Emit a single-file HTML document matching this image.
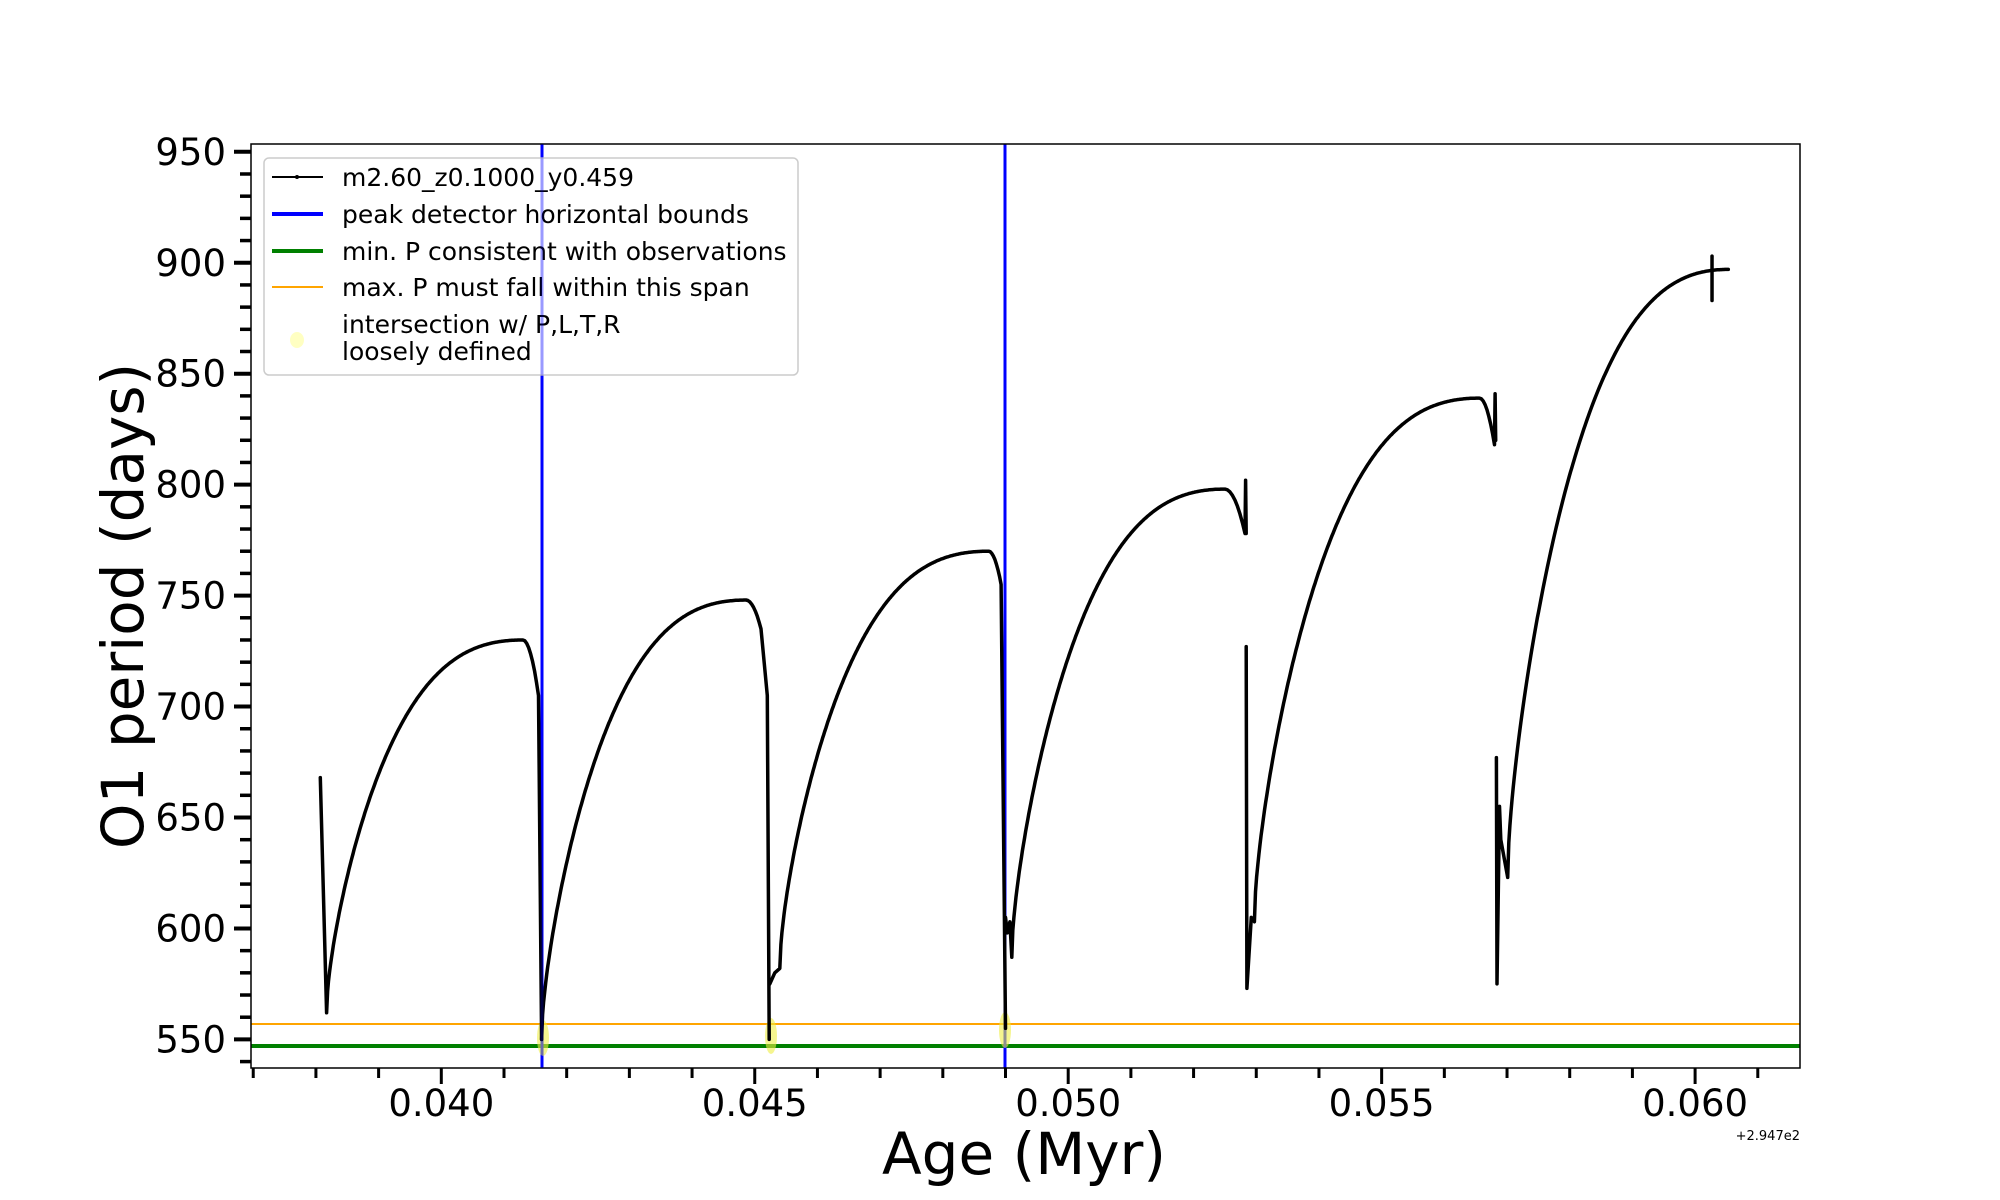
<!DOCTYPE html>
<html><head><meta charset="utf-8"><style>
html,body{margin:0;padding:0;background:#fff}
svg{display:block;font-family:"DejaVu Sans","Liberation Sans",sans-serif}
</style></head><body>
<svg id="s" width="2000" height="1200" viewBox="0 0 2000 1200" xmlns="http://www.w3.org/2000/svg">
<rect width="2000" height="1200" fill="#fff"/>
<g id="lines"></g>
<g id="curve" fill="none" stroke="#000" stroke-width="3.5" stroke-linejoin="round" stroke-linecap="round"></g>
<g id="ticks"></g>
<rect x="251" y="144" width="1549" height="924" fill="none" stroke="#000" stroke-width="1.5"/>
<rect x="264" y="158" width="534" height="217" rx="5" fill="#fff" fill-opacity="0.8" stroke="#ccc" stroke-width="1.5"/>
<g font-size="25" fill="#000">
<line x1="272" y1="177" x2="323" y2="177" stroke="#000" stroke-width="2"/><circle cx="297" cy="177" r="2"/>
<text x="342" y="186">m2.60_z0.1000_y0.459</text>
<line x1="272" y1="214" x2="323" y2="214" stroke="#0000ff" stroke-width="4"/>
<text x="342" y="223">peak detector horizontal bounds</text>
<line x1="272" y1="251" x2="323" y2="251" stroke="#008000" stroke-width="4"/>
<text x="342" y="260">min. P consistent with observations</text>
<line x1="272" y1="287" x2="323" y2="287" stroke="#ffa500" stroke-width="2"/>
<text x="342" y="296">max. P must fall within this span</text>
<ellipse cx="297" cy="340" rx="7" ry="8" fill="#ffff99" fill-opacity="0.6"/>
<text x="342" y="333">intersection w/ P,L,T,R</text>
<text x="342" y="360">loosely defined</text>
</g>
<line x1="542" y1="144" x2="542" y2="1068" stroke="#0000ff" stroke-width="3" stroke-opacity="0.25"/>
<g id="labels" fill="#000"></g>
<text x="1024" y="1174" font-size="58" text-anchor="middle">Age (Myr)</text>
<text transform="translate(143,606) rotate(-90)" font-size="58" text-anchor="middle">O1 period (days)</text>
<text x="1800" y="1140" font-size="13" text-anchor="end">+2.947e2</text>
</svg>
<script>
var NS="http://www.w3.org/2000/svg";
function X(a){return 441.3+(a-0.04)*62690;}
function Y(p){return 151.8+(950-p)*2.219;}
function el(t,at,par){var e=document.createElementNS(NS,t);for(var k in at)e.setAttribute(k,at[k]);document.getElementById(par).appendChild(e);return e;}
el("line",{x1:251,x2:1800,y1:1024,y2:1024,stroke:"#ffa500","stroke-width":2},"lines");
el("line",{x1:251,x2:1800,y1:1046,y2:1046,stroke:"#008000","stroke-width":4},"lines");
el("line",{x1:542,x2:542,y1:144,y2:1068,stroke:"#0000ff","stroke-width":3},"lines");
el("line",{x1:1005,x2:1005,y1:144,y2:1068,stroke:"#0000ff","stroke-width":3},"lines");
[[543,1038],[771,1036],[1005,1030]].forEach(function(c){el("ellipse",{cx:c[0],cy:c[1],rx:6,ry:18,fill:"#eeee44","fill-opacity":0.6},"lines");});
function rise(a0,p0,a1,p1,n){var r=[];for(var i=0;i<=n;i++){var t=i/n;var f=0.5*Math.sqrt(1-Math.pow(1-t,2))+0.5*(1-Math.pow(1-t,3));r.push([a0+(a1-a0)*t,p0+(p1-p0)*f]);}return r;}
function cap(a0,p0,a1,p1,n){var r=[];for(var i=1;i<=n;i++){var t=i/n;r.push([a0+(a1-a0)*t,p0+(p1-p0)*t*t]);}return r;}
var segs=[];
segs.push([[0.03807,668],[0.03817,562]].concat(rise(0.03817,562,0.0413,730,200)).concat(cap(0.0413,730,0.04155,705,8)).concat([[0.0416,550]]));
segs.push(rise(0.0416,550,0.04486,748,200).concat(cap(0.04486,748,0.0451,735,8)).concat([[0.0452,705],[0.04523,550]]));
segs.push([[0.04524,575],[0.04532,580],[0.0454,582]].concat(rise(0.0454,582,0.04873,770,200)).concat(cap(0.04873,770,0.04893,755,8)).concat([[0.049,555]]));
segs.push([[0.049,605],[0.04903,598],[0.04907,603],[0.0491,587]].concat(rise(0.0491,587,0.0525,798,200)).concat(cap(0.0525,798,0.05282,778,8)).concat([[0.05283,802],[0.05284,778]]));
segs.push([[0.05284,727],[0.05285,573],[0.05292,605],[0.05297,603]].concat(rise(0.05297,603,0.05656,839,200)).concat(cap(0.05656,839,0.0568,818,8)).concat([[0.05681,841],[0.05682,820]]));
segs.push([[0.05683,677],[0.05684,575],[0.05688,655],[0.0569,640],[0.05701,623]].concat(rise(0.05701,623,0.06053,897,200)));
segs.forEach(function(s){el("polyline",{points:s.map(function(p){return X(p[0]).toFixed(1)+","+Y(p[1]).toFixed(1);}).join(" ")},"curve");});
el("line",{x1:X(0.06027),x2:X(0.06027),y1:Y(903),y2:Y(883)},"curve");
for(var v=540;v<=950;v+=10){var y=Y(v);if(y<144||y>1068)continue;var maj=(v%50==0);
 el("line",{x1:251-(maj?17:11),x2:251,y1:y,y2:y,stroke:"#000","stroke-width":maj?4:3.5},"ticks");
 if(maj){var t=el("text",{x:226,y:y+13,"font-size":37,"text-anchor":"end"},"labels");t.textContent=v;}}
for(var i=37;i<=61;i++){var a=i/1000,x=X(a);if(x<251||x>1800)continue;var maj=(i%5==0);
 el("line",{x1:x,x2:x,y1:1068,y2:1068+(maj?16:10),stroke:"#000","stroke-width":3},"ticks");
 if(maj){var t=el("text",{x:x,y:1116,"font-size":37,"text-anchor":"middle"},"labels");t.textContent=a.toFixed(3);}}
</script>
</body></html>
